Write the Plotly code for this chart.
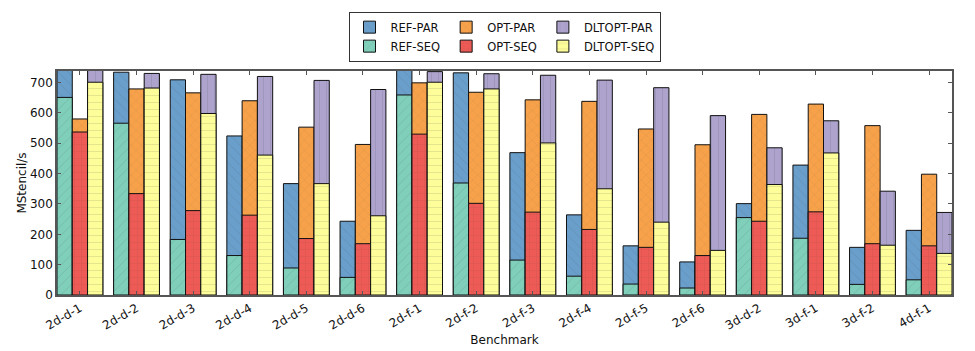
import plotly.graph_objects as go

benchmarks = ["2d-d-1", "2d-d-2", "2d-d-3", "2d-d-4", "2d-d-5", "2d-d-6",
              "2d-f-1", "2d-f-2", "2d-f-3", "2d-f-4", "2d-f-5", "2d-f-6",
              "3d-d-2", "3d-f-1", "3d-f-2", "4d-f-1"]

ref_par = [745, 734, 709, 524, 367, 243, 745, 732, 469, 264, 162, 109, 301, 428, 157, 213]
ref_seq = [651, 566, 183, 130, 89, 58, 659, 369, 115, 62, 36, 23, 255, 187, 35, 50]
opt_par = [580, 679, 666, 640, 553, 496, 699, 668, 643, 638, 547, 495, 595, 629, 558, 398]
opt_seq = [537, 334, 278, 263, 186, 169, 530, 302, 273, 216, 157, 130, 243, 274, 169, 162]
dlt_par = [745, 730, 727, 720, 707, 677, 736, 729, 724, 708, 683, 591, 485, 574, 342, 272]
dlt_seq = [701, 682, 598, 461, 367, 261, 701, 679, 501, 350, 240, 147, 364, 468, 164, 137]

y_ticks = [0, 100, 200, 300, 400, 500, 600, 700]

W = 0.27
series = [
    # name, values, group, offset, color, hatch
    ("REF-PAR", ref_par, "REF", -0.405, "#6a9fcb", "\\"),
    ("REF-SEQ", ref_seq, "REF", -0.405, "#7fcfbb", "/"),
    ("OPT-PAR", opt_par, "OPT", -0.135, "#f7a24a", "x"),
    ("OPT-SEQ", opt_seq, "OPT", -0.135, "#ee5a55", "+"),
    ("DLTOPT-PAR", dlt_par, "DLT", 0.135, "#ada3cd", "|"),
    ("DLTOPT-SEQ", dlt_seq, "DLT", 0.135, "#fdfd99", "-"),
]

fig = go.Figure()
for name, vals, grp, off, col, hatch in series:
    fig.add_trace(go.Bar(
        x=benchmarks, y=vals, name=name, legendgroup=grp,
        width=W, offset=off,
        marker=dict(color=col, line=dict(color="#111111", width=1),
                    pattern=dict(shape=hatch, fgcolor="rgba(60,60,60,0.3)",
                                 size=7, solidity=0.12, fillmode="overlay")),
    ))

axis_font = dict(family="DejaVu Sans", size=12, color="#111111")
fig.update_layout(
    barmode="overlay",
    width=975, height=351,
    margin=dict(l=57, r=23, t=66, b=56),
    paper_bgcolor="white", plot_bgcolor="white",
    font=dict(family="DejaVu Sans", size=12, color="#111111"),
    legend=dict(orientation="h", traceorder="grouped", x=0.5, xanchor="center",
                y=1.265, yanchor="top", bordercolor="#333333", borderwidth=1,
                tracegroupgap=44, font=dict(family="DejaVu Sans", size=11.5),
                itemwidth=32),
    xaxis=dict(type="category", range=[-0.405, len(benchmarks) - 0.595],
               tickangle=-30, ticks="inside", ticklen=4, tickcolor="#555555",
               showline=True, linecolor="#555555", linewidth=1.5, mirror="allticks",
               tickfont=axis_font, automargin=False,
               title=dict(text="Benchmark", font=axis_font, standoff=4),
               showgrid=False),
    yaxis=dict(range=[0, 738], tickvals=y_ticks, ticks="inside", ticklen=4,
               tickcolor="#555555", showline=True, linecolor="#555555", linewidth=1.5,
               mirror="allticks", tickfont=axis_font, showgrid=False, zeroline=False,
               automargin=False,
               title=dict(text="MStencil/s", font=axis_font, standoff=1)),
)

fig.write_html("out.html")
